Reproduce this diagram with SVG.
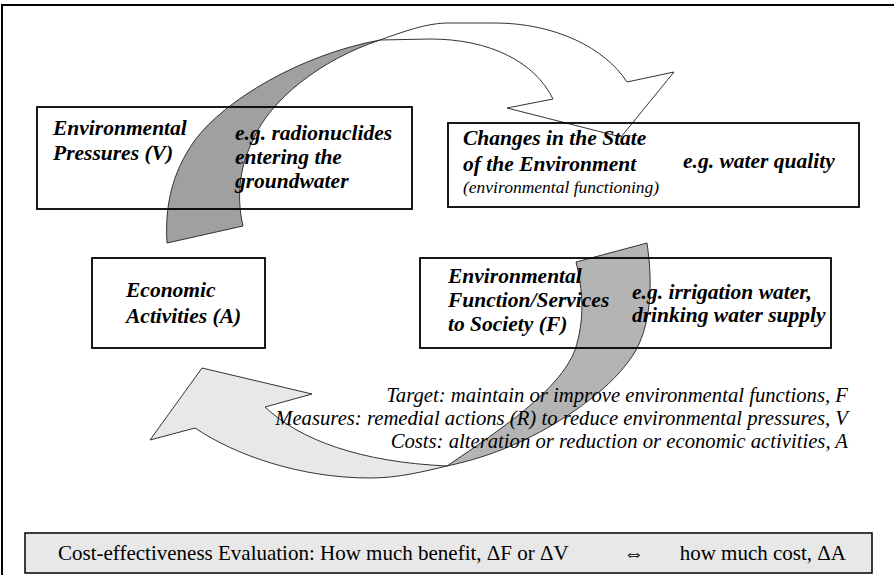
<svg xmlns="http://www.w3.org/2000/svg" width="894" height="575" viewBox="0 0 894 575">
  <style>
    .frame { fill: none; stroke: #000; stroke-width: 2; }
    .box { fill: none; stroke: #000; stroke-width: 1.8; }
    .edge { stroke: #333; stroke-width: 1; stroke-linejoin: miter; }
    .lbl { font-family: 'Liberation Serif', serif; font-size: 21.5px; font-weight: bold; font-style: italic; fill: #000; }
    .sub { font-family: 'Liberation Serif', serif; font-size: 17.5px; font-style: italic; fill: #000; }
    .note { font-family: 'Liberation Serif', serif; font-size: 20.7px; font-style: italic; fill: #000; text-anchor: end; }
    .eval { font-family: 'Liberation Serif', serif; font-size: 21px; fill: #000; }
  </style>

  <!-- outer frame (open to the right and bottom) -->
  <path class="frame" d="M2,575 L2,5 L894,5"/>

  <!-- connectors: the two twisted curved block arrows -->
  <g id="connectors">
    <g id="arrow-pressure-to-state">
      <!-- back face (dark) -->
      <path class="edge" fill="#a0a0a0" d="M380,40 C300,55 225,100 195,140 C170,175 165,210 167,243 L243,226 C237,200 238,170 253,140 C270,100 320,60 380,40 Z"/>
      <!-- front face with head -->
      <path class="edge" fill="#ffffff" d="M380,40 C405,31 425,24 445,23 L495,23 C555,23 605,48 627,82 L674,72 L621,137 L507,108 L553,99 C535,62 490,39 430,39 Z"/>
    </g>
    <g id="arrow-services-to-activities">
      <!-- back face (mid grey), tapering to the twist -->
      <path class="edge" fill="#b4b4b4" d="M576,262 L647,243 C654,290 650,335 628,362 C608,390 560,425 513,445 C490,455 470,461 447,466 C500,430 560,390 575,350 C585,320 583,290 576,262 Z"/>
      <!-- front face with head -->
      <path class="edge" fill="#e8e8e8" d="M447,466 C425,471 400,478 370,478 C300,478 235,455 195,428 L150,440 L202,368 L312,394 L265,407 C300,440 360,462 447,466 Z"/>
    </g>
  </g>

  <g id="pressures">
    <rect class="box" x="37" y="107" width="375" height="102"/>
    <text class="lbl" x="53" y="135">Environmental</text>
    <text class="lbl" x="53" y="160">Pressures (V)</text>
    <text class="lbl" x="235" y="140">e.g. radionuclides</text>
    <text class="lbl" x="235" y="164">entering the</text>
    <text class="lbl" x="235" y="188">groundwater</text>
  </g>

  <g id="state">
    <rect class="box" x="448" y="123" width="411" height="84"/>
    <text class="lbl" x="463" y="145">Changes in the State</text>
    <text class="lbl" x="463" y="171">of the Environment</text>
    <text class="sub" x="463" y="193">(environmental functioning)</text>
    <text class="lbl" x="683" y="168">e.g. water quality</text>
  </g>

  <g id="activities">
    <rect class="box" x="92" y="258" width="173" height="90"/>
    <text class="lbl" x="126" y="297">Economic</text>
    <text class="lbl" x="126" y="323">Activities (A)</text>
  </g>

  <g id="services">
    <rect class="box" x="420" y="258" width="411" height="90"/>
    <text class="lbl" x="448" y="283">Environmental</text>
    <text class="lbl" x="448" y="307">Function/Services</text>
    <text class="lbl" x="448" y="331">to Society (F)</text>
    <text class="lbl" x="632" y="299">e.g. irrigation water,</text>
    <text class="lbl" x="632" y="322">drinking water supply</text>
  </g>

  <g id="notes">
    <text class="note" x="848" y="402">Target: maintain or improve environmental functions, F</text>
    <text class="note" x="848" y="425">Measures: remedial actions (R) to reduce environmental pressures, V</text>
    <text class="note" x="848" y="448">Costs: alteration or reduction or economic activities, A</text>
  </g>

  <g id="evaluation">
    <rect x="25" y="533" width="847" height="40" fill="#e8e8e8" stroke="#000" stroke-width="1.5"/>
    <text class="eval" x="58" y="560">Cost-effectiveness Evaluation: How much benefit, ΔF or ΔV</text>
    <text class="eval" x="634" y="560" text-anchor="middle">⇔</text>
    <text class="eval" x="846" y="560" text-anchor="end">how much cost, ΔA</text>
  </g>
</svg>
